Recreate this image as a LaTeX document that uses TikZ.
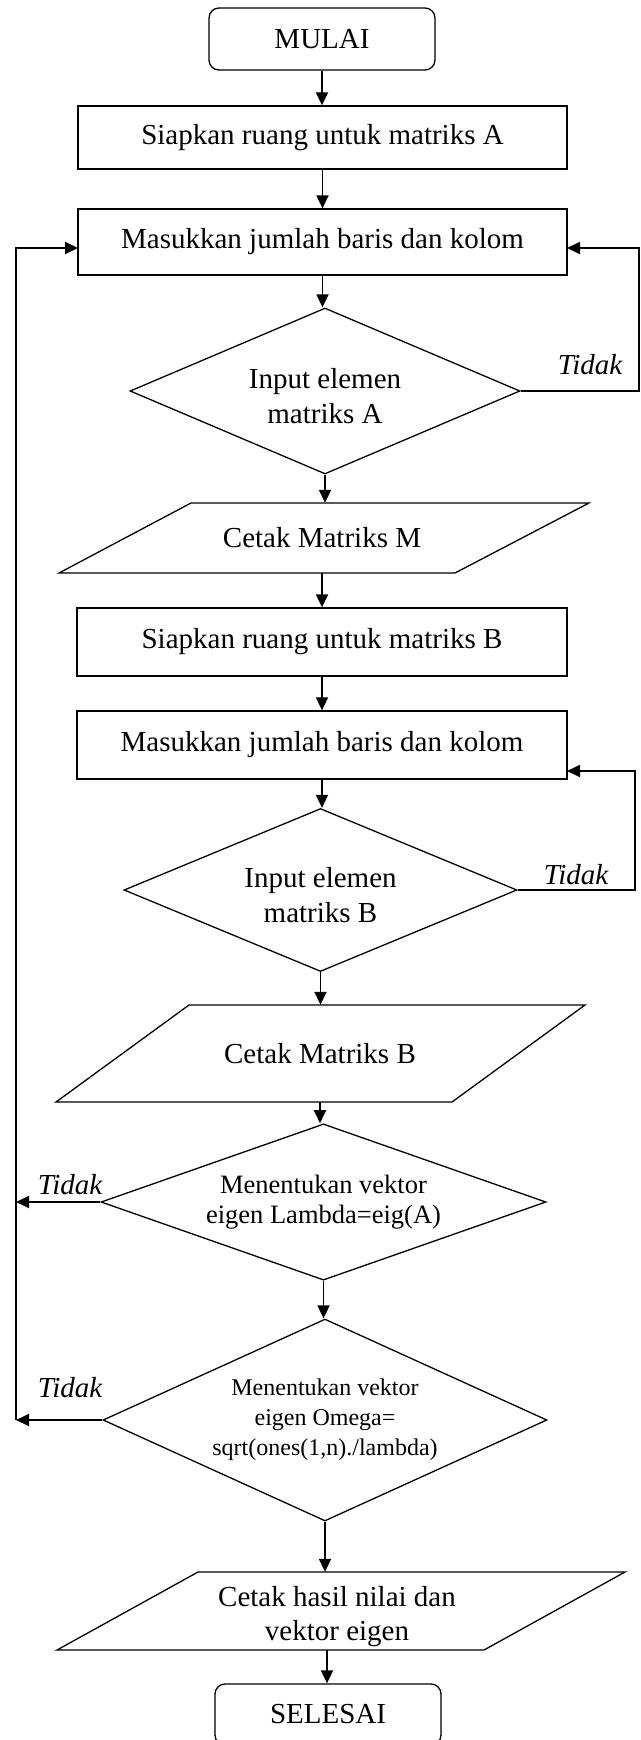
\documentclass[tikz,border=0pt]{standalone}
\usepackage{fontspec}
\setmainfont{Liberation Serif}
\usetikzlibrary{shapes.geometric,arrows.meta}
\begin{document}
\begin{tikzpicture}[x=1pt,y=-1pt,
  mainfont/.style={font=\fontsize{29}{34}\selectfont},
  shp/.style={draw,line width=1.3pt,inner sep=0pt,align=center,mainfont},
  boxs/.style={shp,rectangle},
  term/.style={shp,rectangle,rounded corners=10pt},
  dia/.style={shp,diamond,aspect=2.3},
  io/.style={inner sep=0pt,align=center,mainfont},
  para/.style={line width=1.3pt},
  arr/.style={line width=1.8pt,-{Triangle[length=13pt,width=12pt]}},
  lin/.style={line width=1.8pt},
  lbl/.style={font=\fontsize{29}{34}\selectfont\itshape,inner sep=0pt,anchor=base}]
\useasboundingbox (0,0) rectangle (640,1740);
\fill[white] (0,0) rectangle (640,1740);

% nodes
\node[term,minimum width=226pt,minimum height=62pt] (start) at (322,39) {MULAI};
\node[boxs,minimum width=489pt,minimum height=63pt] (b1) at (322.5,137.5) {Siapkan ruang untuk matriks A};
\node[boxs,minimum width=489pt,minimum height=66pt] (b2) at (322.5,242) {Masukkan jumlah baris dan kolom};
\node[dia,minimum width=390pt,minimum height=166pt,font=\fontsize{29}{35}\selectfont,text height=66pt] (d1) at (325,391) {Input elemen\\matriks A};

\draw[para] (191,503) -- (589,503) -- (455,573) -- (59,573) -- cycle;
\node[io,minimum width=396pt,minimum height=70pt] (pM) at (322,538) {Cetak Matriks M};

\node[boxs,minimum width=490pt,minimum height=68pt] (b3) at (322,642) {Siapkan ruang untuk matriks B};
\node[boxs,minimum width=490pt,minimum height=68pt] (b4) at (322,745) {Masukkan jumlah baris dan kolom};
\node[dia,minimum width=393pt,minimum height=163pt,font=\fontsize{29}{35}\selectfont,text height=66pt] (d2) at (320.5,890) {Input elemen\\matriks B};

\draw[para] (189,1005) -- (585,1005) -- (452,1102) -- (56,1102) -- cycle;
\node[io,minimum width=396pt,minimum height=97pt] (pB) at (320,1053.5) {Cetak Matriks B};

\node[dia,minimum width=445pt,minimum height=131pt,font=\fontsize{26.5}{30}\selectfont] (d3) at (323.5,1202) {Menentukan vektor\\eigen Lambda=eig(A)};
\node[dia,minimum width=444pt,minimum height=202pt,font=\fontsize{24}{30}\selectfont] (d4) at (325,1420) {Menentukan vektor\\eigen Omega=\\sqrt(ones(1,n)./lambda)};

\draw[para] (198,1572) -- (625,1572) -- (484,1650) -- (57,1650) -- cycle;
\node[io,minimum width=427pt,minimum height=78pt] (pH) at (327,1611) {};
\node[io] (pHt) at (337,1617) {Cetak hasil nilai dan\\vektor eigen};

\node[term,minimum width=226pt,minimum height=61pt] (stop) at (328,1714.5) {SELESAI};

% helper coordinates
\coordinate (r1) at (639,391);
\coordinate (r2) at (635,890);
\coordinate (l3) at (16,1202);
\coordinate (l4) at (16,1420);
\coordinate (e2) at (567,248);
\coordinate (e4) at (567,771);
\coordinate (w2) at (78,248);

% main flow
\draw[arr] (start.south) -- (start.south |- b1.north);
\draw[arr] (b1.south) -- (b1.south |- b2.north);
\draw[arr] (b2.south) -- (b2.south |- d1.north);
\draw[arr] (d1.south) -- (d1.south |- pM.north);
\draw[arr] (pM.south) -- (pM.south |- b3.north);
\draw[arr] (b3.south) -- (b3.south |- b4.north);
\draw[arr] (b4.south) -- (b4.south |- d2.north);
\draw[arr] (d2.south) -- (d2.south |- pB.north);
\draw[arr] (pB.south) -- (pB.south |- d3.north);
\draw[arr] (d3.south) -- (d3.south |- d4.north);
\draw[arr] (d4.south) -- (d4.south |- pH.north);
\draw[arr] (pH.south) -- (pH.south |- stop.north);

% loops
\draw[arr] (d1.east) -- (r1) |- (e2);
\draw[arr] (d2.east) -- (r2) |- (e4);
\draw[arr] (d3.west) -- (l3);
\draw[arr] (d4.west) -- (l4);
\draw[arr] (l4) -- (l4 |- w2) -- (w2);

% labels
\node[lbl] (t1) at (590,374) {Tidak};
\node[lbl] (t2) at (576,884) {Tidak};
\node[lbl] (t3) at (70,1194) {Tidak};
\node[lbl] (t4) at (70,1397) {Tidak};
\end{tikzpicture}
\end{document}
